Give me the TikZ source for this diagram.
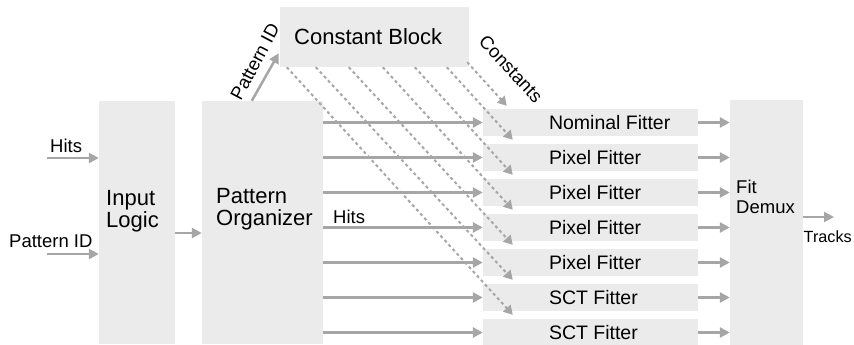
\documentclass[tikz,border=0pt]{standalone}
\usepackage{fontspec}
\setmainfont{Liberation Sans}
\usetikzlibrary{arrows.meta,calc}

\definecolor{blkgray}{HTML}{EBEBEB}
\definecolor{arrgray}{HTML}{A6A6A6}

\tikzset{
	blk/.style={fill=blkgray, draw=none, inner sep=0pt},
	lbl/.style={inner sep=0pt, font=\fontsize{18.5}{20}\selectfont},
	fitlbl/.style={inner sep=0pt, anchor=west, font=\fontsize{19.5}{21}\selectfont},
	biglbl/.style={inner sep=0pt, anchor=west, align=left, font=\fontsize{22}{22.5}\selectfont},
	arr/.style={draw=arrgray, line width=2.5pt, -{Triangle[length=10pt,width=10pt]}},
	dasharr/.style={draw=arrgray, line width=2pt, dash pattern=on 3pt off 3pt, -{Triangle[length=9pt,width=10pt]}}
}

\begin{document}
\begin{tikzpicture}[x=1pt,y=-1pt]
				\useasboundingbox (0,0) rectangle (854,345);
				\node[blk, minimum width=76, minimum height=243] (il) at (137,222.5) {};
				\node[blk, minimum width=121, minimum height=243] (po) at (262.5,222.5) {};
				\node[blk, minimum width=189, minimum height=60] (cb) at (374.5,37) {};
				\node[blk, minimum width=73, minimum height=245] (fd) at (766.5,222.5) {};
				\foreach \i/\t in {0/Nominal Fitter,1/Pixel Fitter,2/Pixel Fitter,3/Pixel Fitter,4/Pixel Fitter,5/SCT Fitter,6/SCT Fitter}{
					\node[blk, minimum width=215, minimum height=27] (f\i) at (590.5,{122.5+35*\i}) {};
					\node[fitlbl] (t\i) at ($(f\i.west)+(66,0)$) {\t};
				}
				\node[biglbl] (iltxt) at (106,211) {Input\\Logic};
				\node[biglbl] (potxt) at (216,209) {Pattern\\Organizer};
				\node[biglbl] (cbtxt) at (294,37) {Constant Block};
				\node[lbl, anchor=west, align=left] (fdtxt) at (736,196.5) {Fit\\Demux};
				% inputs
				\coordinate (hitsin) at (47,158);
				\coordinate (pidin) at (47,254);
				\draw[arr] (hitsin) -- (hitsin -| il.west);
				\draw[arr] (pidin) -- (pidin -| il.west);
				\node[lbl, anchor=base west] (hitslbl) at (50,152) {Hits};
				\node[lbl, anchor=base west] (pidlbl) at (9,247) {Pattern ID};
				\draw[arr] ($(il.east)+(0,10.5)$) -- ($(po.west)+(0,10.5)$);
				% pattern id to constant block
				\draw[arr] ($(po.north west)+(50,0)$) -- ($(cb.south west)+(-1,-14)$);
				\node[lbl, rotate=62] (pidlbl2) at (255,62) {Pattern ID};
				% hits to fitters
				\foreach \i in {0,...,6}{
					\draw[arr] (po.east |- f\i) -- (f\i.west);
					\draw[arr] (f\i.east) -- (f\i.east -| fd.west);
				}
				\node[lbl, anchor=base west] (hitslbl2) at (333,223) {Hits};
				% constants
				\draw[dasharr] ($(cb.south east)+(-2,-5)$) -- ($(f0.north west)+(24,-3)$);
				\foreach \i/\sx in {1/167,2/135,3/103,4/69,5/36,6/7}
					\draw[dasharr] ($(cb.south west)+(\sx,0)$) -- ($(f\i.north west)+(30,-4)$);
				\node[lbl, rotate=-47] (constlbl) at (511,69) {Constants};
				% output
				\coordinate (trk) at (834,217);
				\draw[arr] (trk -| fd.east) -- (trk);
				\node[inner sep=0pt, anchor=base west, font=\fontsize{16.2}{18}\selectfont] (trklbl) at (803.5,242) {Tracks};
\end{tikzpicture}
\end{document}
